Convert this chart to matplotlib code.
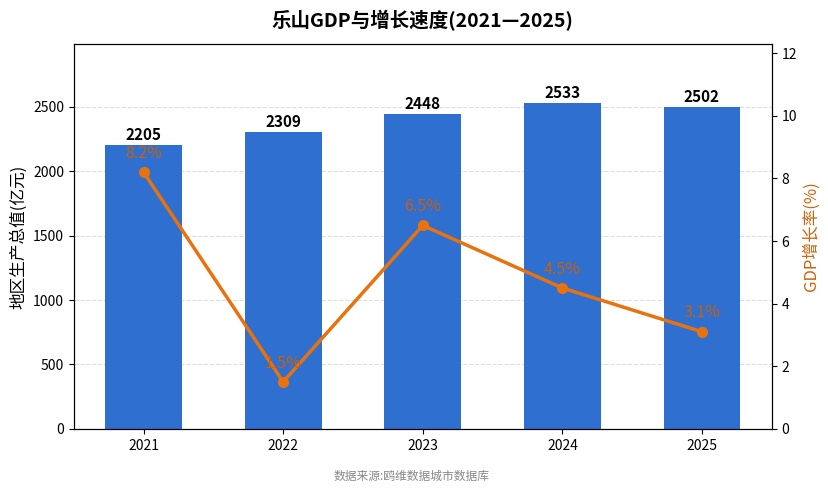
import numpy as np
import matplotlib.pyplot as plt

plt.rcParams['font.family'] = ['Noto Sans CJK SC', 'DejaVu Sans']
plt.rcParams['axes.unicode_minus'] = False

years = ["2021", "2022", "2023", "2024", "2025"]
gdp = [2205, 2309, 2448, 2533, 2502]
growth = [8.2, 1.5, 6.5, 4.5, 3.1]

x = np.arange(len(years))

fig, ax1 = plt.subplots(figsize=(8.29, 4.94), dpi=100)
fig.subplots_adjust(left=0.089, right=0.931, top=0.911, bottom=0.132)

bars = ax1.bar(x, gdp, width=0.55, color="#2F6FD0", zorder=2)
ax1.set_ylim(0, max(gdp) * 1.18)
ax1.set_xlim(-0.5, len(years) - 0.5)
ax1.set_xticks(x)
ax1.set_xticklabels(years)
ax1.set_ylabel("地区生产总值(亿元)", fontsize=12)
ax1.grid(axis="y", linestyle="--", color="#DDDDDD", linewidth=0.8, zorder=0)
ax1.set_axisbelow(True)
for xi, v in zip(x, gdp):
    ax1.text(xi, v + 15, f"{v}", ha="center", va="bottom",
             fontsize=11, fontweight="bold")

ax2 = ax1.twinx()
ax2.plot(x, growth, color="#E8730E", linewidth=2.5, marker="o",
         markersize=7, zorder=3)
ax2.set_ylim(0, max(growth) * 1.5)
ax2.set_ylabel("GDP增长率(%)", fontsize=12, color="#D0620C")
for xi, g in zip(x, growth):
    ax2.text(xi, g + 0.33, f"{g}%", ha="center", va="bottom",
             fontsize=11.5, color="#C8600C")

ax1.set_title("乐山GDP与增长速度(2021—2025)", fontsize=14,
              fontweight="bold", pad=12)
fig.text(0.496, 0.028, "数据来源:鸥维数据城市数据库", ha="center",
         fontsize=8.5, color="#888888")

plt.savefig("out.png", dpi=100)
